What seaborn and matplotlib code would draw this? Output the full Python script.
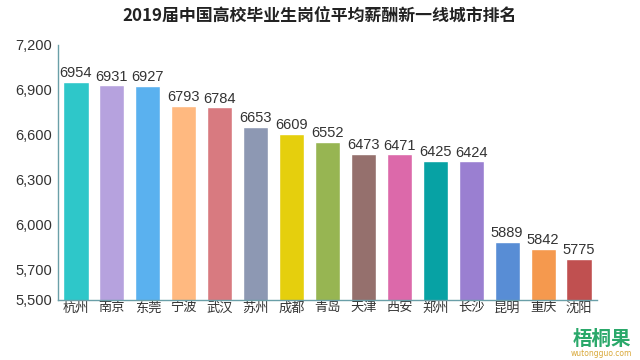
import matplotlib
matplotlib.use("Agg")
from matplotlib import pyplot as plt
import seaborn as sns
import pandas as pd
import numpy as np

cities = ["杭州", "南京", "东莞", "宁波", "武汉", "苏州", "成都", "青岛",
          "天津", "西安", "郑州", "长沙", "昆明", "重庆", "沈阳"]
salary = [6954, 6931, 6927, 6793, 6784, 6653, 6609, 6552,
          6473, 6471, 6425, 6424, 5889, 5842, 5775]
bar_colors = ["#2ec7c9", "#b6a2de", "#5ab1ef", "#ffb980", "#d87a80",
              "#8d98b3", "#e5cf0d", "#97b552", "#95706d", "#dc69aa",
              "#07a2a4", "#9a7fd1", "#588dd5", "#f5994e", "#c05050"]
y_ticks = [5500, 5700, 6000, 6300, 6600, 6900, 7200]
title = "2019届中国高校毕业生岗位平均薪酬新一线城市排名"

sns.set_style("white")
plt.rcParams['font.family'] = ['Noto Sans CJK SC', 'DejaVu Sans']

df = pd.DataFrame({"city": cities, "salary": salary})

fig = plt.figure(figsize=(6.4, 3.6), dpi=100)
ax = fig.add_axes([58 / 640, 60 / 360, 539 / 640, 255 / 360])

sns.barplot(data=df, x="city", y="salary", hue="city", palette=bar_colors,
            width=0.7, legend=False, ax=ax, saturation=1)

ax.set_ylim(5500, 7200)
ax.set_xlim(-0.5, len(cities) - 0.5)
ax.set_yticks(y_ticks)
ax.set_yticklabels([f"{v:,}" for v in y_ticks])
ax.set_xlabel("")
ax.set_ylabel("")

for i, v in enumerate(salary):
    ax.text(i, v + 12, str(v), ha="center", va="bottom", fontsize=10.5,
            color="#333333", family="Liberation Sans")

spine_color = "#6a9fa8"
for side in ["top", "right"]:
    ax.spines[side].set_visible(False)
for side in ["left", "bottom"]:
    ax.spines[side].set_color(spine_color)
    ax.spines[side].set_linewidth(1)

ax.tick_params(axis="y", length=3, color=spine_color, labelsize=10.5,
               labelcolor="#333333", pad=1)
ax.tick_params(axis="x", length=0, labelsize=9.5, labelcolor="#333333", pad=1)
ax.set_xticks(np.arange(len(cities)) + 0.5, minor=True)
ax.tick_params(axis="x", which="minor", length=4, color=spine_color, direction="out")
for lbl in ax.get_yticklabels():
    lbl.set_family("Liberation Sans")

fig.text(0.5, 0.955, title, ha="center", va="center", fontsize=12.2,
         fontweight="bold", color="#222222")

fig.text(0.94, 0.058, "梧桐果", ha="center", va="center", fontsize=14,
         fontweight="bold", color="#2aa86a")
fig.text(0.94, 0.018, "wutongguo.com", ha="center", va="center", fontsize=5.5,
         color="#d9a93a", family="DejaVu Sans")

fig.savefig("out.png", dpi=100)
